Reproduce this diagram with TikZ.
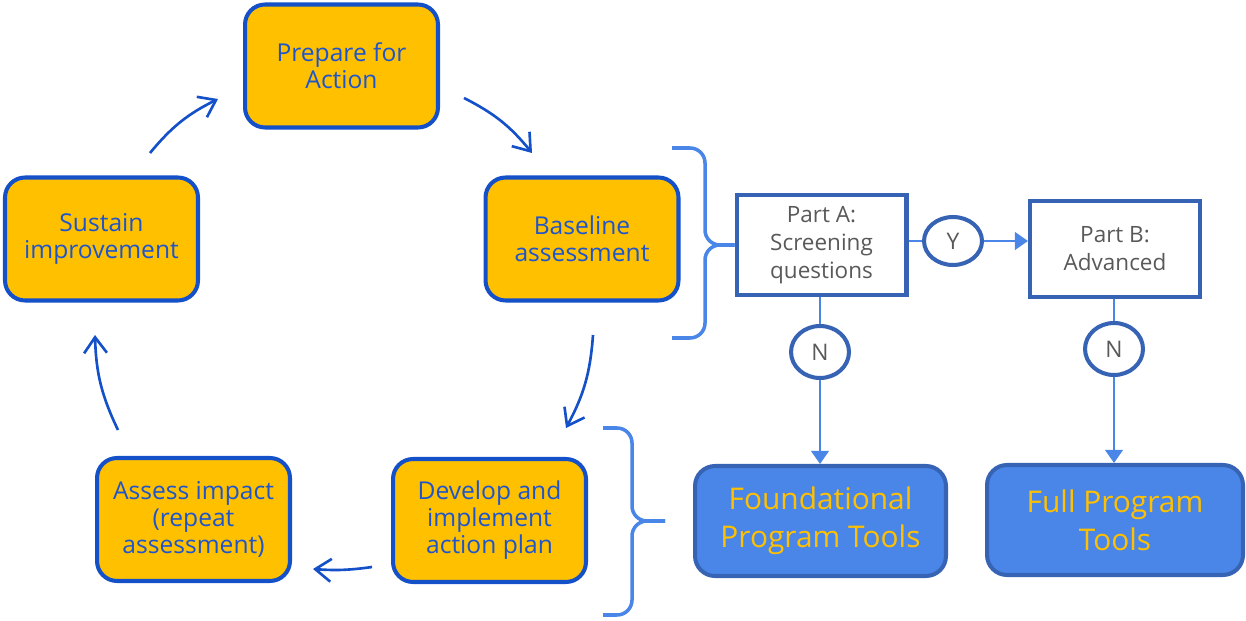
\documentclass[tikz,border=0pt]{standalone}
\usepackage{fontspec}
\setmainfont{Open Sans}
\usetikzlibrary{arrows.meta,shapes.geometric}
\definecolor{stepfill}{HTML}{FFC000}
\definecolor{stepline}{HTML}{1450C8}
\definecolor{steptext}{HTML}{1E55CD}
\definecolor{toolfill}{HTML}{4A86E8}
\definecolor{toolline}{HTML}{3763B5}
\definecolor{parttext}{HTML}{595959}
\tikzset{
	cyclebox/.style={shape=rectangle, draw=stepline, fill=stepfill, line width=2.3pt, rounded corners=0.4cm, minimum width=3.86cm, minimum height=2.46cm, align=center, text=steptext, font=\fontsize{14}{15.4}\selectfont},
	partbox/.style={shape=rectangle, draw=toolline, fill=white, line width=2.3pt, minimum width=3.4cm, align=center, text=parttext, font=\fontsize{12.8}{15.9}\selectfont},
	answer/.style={shape=ellipse, draw=toolline, fill=white, line width=2.3pt, inner sep=0pt, minimum width=1.16cm, text=parttext, font=\fontsize{13}{15}\selectfont},
	toolbox/.style={shape=rectangle, draw=toolline, fill=toolfill, line width=2.3pt, rounded corners=0.4cm, minimum height=2.2cm, align=center, text=stepfill, font=\fontsize{17}{21.6}\selectfont},
	cyclearrow/.style={draw=stepline, line width=1.5pt, -{Straight Barb[length=9pt, width=13pt]}},
	wire/.style={draw=toolfill, line width=1.5pt},
	bracket/.style={draw=toolfill, line width=2pt, rounded corners=0.3cm},
}
\begin{document}
\begin{tikzpicture}[x=0.02cm, y=-0.02cm]
	\useasboundingbox (0,0) rectangle (1246,621);
	% The improvement cycle:
	\node[cyclebox] (prep) at (341.5, 66) {Prepare for\\Action};
	\node[cyclebox] (base) at (582, 239) {Baseline\\assessment};
	\node[cyclebox] (devl) at (489.5, 520.5) {Develop and\\implement\\action plan};
	\node[cyclebox] (asse) at (193.5, 519.5) {Assess impact\\(repeat\\assessment)};
	\node[cyclebox] (sust) at (101.5, 239) {Sustain\\improvement};
	\coordinate (sp1) at (150, 153); \coordinate (sp2) at (218, 99);
	\coordinate (pb1) at (464, 98); \coordinate (pb2) at (532, 153);
	\coordinate (bd1) at (593, 335); \coordinate (bd2) at (566, 428);
	\coordinate (da1) at (372, 567); \coordinate (da2) at (313, 569);
	\coordinate (as1) at (118, 430); \coordinate (as2) at (95, 335);
	\draw[cyclearrow] (sp1) to[bend left=12] (sp2);
	\draw[cyclearrow] (pb1) to[bend left=12] (pb2);
	\draw[cyclearrow] (bd1) to[bend left=12] (bd2);
	\draw[cyclearrow] (da1) to[bend left=6] (da2);
	\draw[cyclearrow] (as1) to[bend left=12] (as2);
	% Screening and tools:
	\node[partbox, minimum height=2cm] (partA) at (821.5, 245) {Part A:\\Screening\\questions};
	\node[partbox, minimum height=1.92cm] (partB) at (1115, 249) {Part B:\\Advanced};
	\node[answer, minimum height=0.96cm] (yes) at (953, 241) {Y};
	\node[answer, minimum height=1.04cm] (noA) at (820, 352) {N};
	\node[answer, minimum height=1.04cm] (noB) at (1114, 349) {N};
	\node[toolbox, minimum width=5.02cm] (found) at (820.5, 521) {Foundational\\Program Tools};
	\node[toolbox, minimum width=5.12cm] (full) at (1115, 520) {Full Program\\Tools};
	\draw[wire] (partA.east |- yes) -- (yes.west);
	\draw[wire, -{Triangle[length=7.5pt, width=10pt]}] (yes.east) -- (partB.west |- yes.east);
	\draw[wire] (partA.south -| noA) -- (noA.north);
	\draw[wire, -{Triangle[length=7.5pt, width=10pt]}] (noA.south) -- (found.north -| noA);
	\draw[wire] (partB.south -| noB) -- (noB.north);
	\draw[wire, -{Triangle[length=7.5pt, width=10pt]}] (noB.south) -- (full.north -| noB);
	% Braces:
	\draw[bracket] (672, 148) -| (705, 245) -- (partA.west);
	\draw[bracket] (672, 338) -| (705, 245) -- (partA.west);
	\coordinate (tools) at (665, 521);
	\draw[bracket] (603, 428) -| (632, 521) -- (tools);
	\draw[bracket] (603, 615) -| (632, 521) -- (tools);
\end{tikzpicture}
\end{document}
